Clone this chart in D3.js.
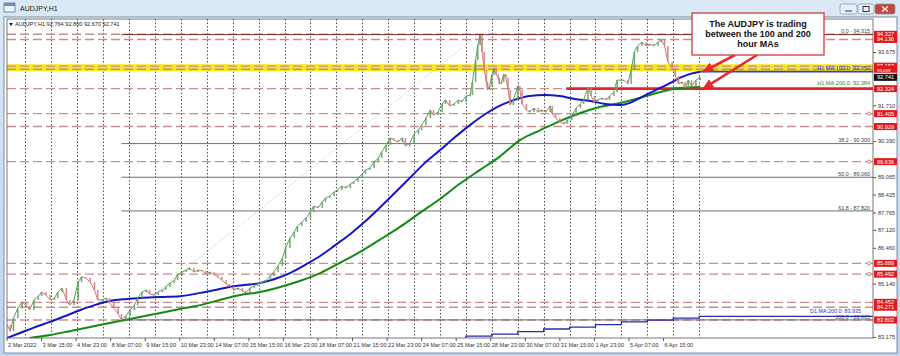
<!DOCTYPE html>
<html>
<head>
<meta charset="utf-8">
<title>AUDJPY,H1</title>
<script src="https://d3js.org/d3.v7.min.js"></script>
<style>
  body { margin: 0; background: #c6d9ee; }
  svg { display: block; font-family: "Liberation Sans", Arial, sans-serif; }
</style>
</head>
<body>
<svg id="chart" width="900" height="356"></svg>
<script>
// ---- values (bar = hourly bar index from the left edge) ----
var timeLabels = ["2 Mar 2022", "3 Mar 15:00", "4 Mar 23:00", "8 Mar 07:00", "9 Mar 15:00",
  "10 Mar 23:00", "14 Mar 07:00", "15 Mar 15:00", "16 Mar 23:00", "18 Mar 07:00",
  "21 Mar 15:00", "22 Mar 23:00", "24 Mar 07:00", "25 Mar 15:00", "28 Mar 23:00",
  "30 Mar 07:00", "31 Mar 15:00", "1 Apr 23:00", "5 Apr 07:00", "6 Apr 15:00"];
var barsPerLabel = 32;
var firstDayBar = 17;           // first midnight
var lastBar = 642;              // last candle
var barsInView = 802;

// axis ticks that are not hidden behind a price tag
var priceTicks = [93.675, 91.710, 90.390, 89.065, 88.425, 87.765, 87.120, 86.460, 85.140, 83.175];

// hourly closes [bar, price]
var closes = [[0,83.62],[3,83.39],[6,83.87],[10,84.24],[14,84.46],[18,84.32],[21,84.17],[25,84.54],
  [29,84.68],[32,84.83],[36,84.72],[40,84.54],[44,84.61],[47,84.83],[51,84.98],[55,84.54],[58,84.35],
  [62,84.54],[66,85.20],[69,85.39],[73,85.35],[77,85.20],[81,84.91],[84,84.54],[88,84.54],[92,84.61],
  [95,84.43],[99,84.24],[103,84.02],[106,83.80],[110,83.95],[114,84.17],[118,84.35],[121,84.61],
  [125,84.83],[129,84.91],[132,84.76],[136,84.72],[140,84.83],[144,84.91],[147,85.02],[151,85.16],
  [155,85.27],[158,85.46],[162,85.57],[166,85.64],[169,85.72],[173,85.57],[177,85.64],[181,85.61],
  [184,85.50],[188,85.57],[192,85.46],[195,85.39],[199,85.27],[203,85.13],[206,85.05],[210,84.91],
  [214,84.98],[218,84.87],[221,84.80],[225,84.98],[229,85.05],[232,85.13],[236,85.20],[240,85.27],
  [244,85.42],[247,85.57],[251,85.79],[255,86.08],[258,86.45],[262,86.82],[266,87.04],[269,87.26],
  [273,87.41],[277,87.56],[281,87.78],[284,88.00],[288,87.93],[292,88.15],[295,88.30],[299,88.37],
  [303,88.52],[306,88.59],[310,88.74],[314,88.66],[318,88.81],[321,88.89],[325,89.03],[329,89.18],
  [332,89.33],[336,89.40],[340,89.62],[344,89.77],[347,89.99],[351,90.25],[355,90.51],[358,90.43],
  [362,90.36],[366,90.51],[369,90.21],[373,90.32],[377,90.65],[381,90.80],[384,90.99],[388,91.24],
  [392,91.54],[395,91.35],[399,91.46],[403,91.76],[406,91.91],[410,91.69],[414,91.76],[418,91.91],
  [421,91.83],[425,92.05],[429,92.09],[431,92.57],[434,93.38],[436,93.93],[438,94.30],[440,93.68],
  [442,93.01],[444,92.57],[445,92.28],[447,92.42],[449,92.83],[451,93.09],[453,92.86],[455,92.72],
  [456,92.50],[458,92.57],[460,92.86],[462,92.72],[464,92.28],[466,91.72],[469,91.91],[473,92.42],
  [475,92.28],[477,91.76],[481,91.54],[484,91.46],[488,91.61],[492,91.46],[495,91.54],[499,91.46],
  [503,91.69],[505,91.39],[508,91.24],[512,91.10],[516,91.02],[519,91.17],[523,91.32],[527,91.61],
  [531,91.76],[534,91.91],[538,92.35],[541,92.05],[544,91.83],[547,91.91],[551,91.98],[555,91.91],
  [558,92.05],[562,92.20],[565,92.64],[568,92.64],[571,92.64],[575,92.50],[578,93.01],[581,93.68],
  [584,93.90],[588,94.04],[592,93.90],[595,93.97],[599,93.90],[603,94.04],[606,94.12],[609,93.90],
  [612,93.31],[616,93.09],[619,92.79],[622,92.50],[625,92.57],[628,92.35],[631,92.64],[634,92.42],
  [638,92.64],[642,92.74]];

// 100 hour moving average
var ma100 = [[0,83.14],[12,83.32],[26,83.54],[40,83.73],[54,83.95],[68,84.17],[81,84.35],[95,84.50],
  [109,84.57],[123,84.61],[142,84.65],[160,84.68],[179,84.80],[193,84.91],[206,85.02],[220,85.09],
  [234,85.16],[248,85.31],[262,85.53],[276,85.83],[290,86.16],[304,86.56],[318,86.97],[331,87.41],
  [345,87.93],[359,88.48],[373,89.03],[387,89.59],[401,90.06],[415,90.54],[429,90.99],[443,91.39],
  [456,91.69],[470,91.91],[484,92.05],[498,92.09],[512,92.05],[526,91.94],[540,91.87],[554,91.76],
  [568,91.72],[577,91.80],[586,91.98],[595,92.16],[605,92.35],[614,92.53],[623,92.72],[632,92.86],
  [642,92.95]];

// 200 hour moving average
var ma200 = [[21,83.14],[40,83.25],[58,83.39],[77,83.54],[95,83.69],[109,83.80],[123,83.91],
  [142,84.06],[160,84.21],[179,84.35],[197,84.54],[216,84.72],[234,84.83],[253,85.02],[271,85.24],
  [290,85.53],[308,85.90],[327,86.31],[345,86.75],[364,87.23],[382,87.74],[401,88.26],[419,88.81],
  [438,89.33],[456,89.81],[475,90.43],[494,90.80],[512,91.13],[531,91.43],[549,91.65],[568,91.80],
  [586,91.98],[605,92.20],[623,92.35],[642,92.384]];

// daily 200 MA (one value per day)
var ma200d = [[401,83.08],[425,83.21],[449,83.28],[473,83.37],[497,83.47],[521,83.54],[545,83.63],
  [569,83.73],[593,83.80],[617,83.87],[641,83.935]];

var levelLines = [94.327, 94.136, 93.153, 93.039, 92.324, 91.405, 90.929, 89.636, 85.889, 85.492,
  84.452, 84.271, 83.802];
var yellowLevels = [93.153, 93.039];
var levelMarks = [91.405, 89.636, 85.889, 85.492];
var supportLevel = 92.324, supportFromBar = 518;
var lastPrice = 92.741;

var fibLow = [106, 83.805], fibHigh = [437, 94.315];
var fibLevels = [0, 38.2, 50, 61.8, 100];
var ohlc = ["92.764", "92.800", "92.670", "92.741"];
var noteLines = ["The AUDJPY is trading", "between the 100 and 200", "hour MAs"];

// ---- layout ----
var svg = d3.select("#chart");
var pL = 7, pR = 873, pT = 19, pB = 338;

var x = d3.scaleLinear().domain([0, barsInView]).range([pL, pR]);
var y = d3.scaleLinear().domain([83.138, 94.891]).range([pB, pT]);
var fmt = d3.format(".3f");
var defs = svg.append("defs");

// window frame
var grad = defs.append("linearGradient").attr("id", "tb")
  .attr("x1", 0).attr("y1", 0).attr("x2", 0).attr("y2", 1);
grad.append("stop").attr("offset", 0).attr("stop-color", "#dbe8f6");
grad.append("stop").attr("offset", 1).attr("stop-color", "#bfd3eb");
svg.append("rect").attr("width", 900).attr("height", 356).attr("fill", "url(#tb)");
svg.append("rect").attr("x", 4).attr("y", 3).attr("width", 11).attr("height", 9)
  .attr("fill", "#eef4fb").attr("stroke", "#6d8fb8");
svg.append("rect").attr("x", 4).attr("y", 3).attr("width", 11).attr("height", 3).attr("fill", "#6d8fb8");
svg.append("text").attr("x", 20).attr("y", 11).attr("font-size", 7).attr("fill", "#1a1a1a").text("AUDJPY,H1");

var buttons = [{x: 840, w: 17, c: "#e9eff7"}, {x: 858, w: 16, c: "#e9eff7"}, {x: 875, w: 20, c: "#c9453b"}];
svg.selectAll(".btn").data(buttons).join("rect")
  .attr("x", d => d.x).attr("y", 4).attr("width", d => d.w).attr("height", 10).attr("rx", 2)
  .attr("fill", d => d.c).attr("stroke", "#7f93ad").attr("stroke-width", 0.7);
svg.append("line").attr("x1", 845).attr("x2", 852).attr("y1", 11).attr("y2", 11).attr("stroke", "#333");
svg.append("rect").attr("x", 863).attr("y", 6.5).attr("width", 6).attr("height", 5).attr("fill", "none").attr("stroke", "#333");
svg.append("path").attr("d", "M882,6.5L888,11.5M888,6.5L882,11.5").attr("stroke", "#fff").attr("stroke-width", 1.3);

// chart panel
svg.append("rect").attr("x", 4).attr("y", 17).attr("width", 893).attr("height", 336)
  .attr("fill", "#fff").attr("stroke", "#7b8ca3");

defs.append("clipPath").attr("id", "clip").append("rect")
  .attr("x", pL).attr("y", pT).attr("width", pR - pL).attr("height", pB - pT);
var g = svg.append("g").attr("clip-path", "url(#clip)");

// vertical day grid
g.selectAll(".vgrid").data(d3.range(firstDayBar, lastBar + 1, 24)).join("line")
  .attr("x1", d => Math.round(x(d)) + 0.5).attr("x2", d => Math.round(x(d)) + 0.5)
  .attr("y1", pT).attr("y2", pB)
  .attr("stroke", "#222").attr("stroke-width", 0.8).attr("stroke-dasharray", "1.5,2");

// yellow highlight band
g.selectAll(".yel").data(yellowLevels).join("line")
  .attr("x1", pL).attr("x2", pR).attr("y1", d => y(d)).attr("y2", d => y(d))
  .attr("stroke", "#f4ea1a").attr("stroke-width", 4);

// dashed horizontal levels
g.selectAll(".lvl").data(levelLines).join("line")
  .attr("x1", pL).attr("x2", pR).attr("y1", d => y(d)).attr("y2", d => y(d))
  .attr("stroke", "#c98e8e").attr("stroke-width", 1.4).attr("stroke-dasharray", "9,4");
g.selectAll(".lvlmark").data(levelMarks).join("circle")
  .attr("cx", pR - 4).attr("cy", d => y(d)).attr("r", 1.6)
  .attr("fill", "#fff").attr("stroke", "#b76b6b").attr("stroke-width", 0.8);

// fibonacci
var fibRange = fibHigh[1] - fibLow[1];
g.append("line")
  .attr("x1", x(fibLow[0])).attr("y1", y(fibLow[1])).attr("x2", x(fibHigh[0])).attr("y2", y(fibHigh[1]))
  .attr("stroke", "#c59a9a").attr("stroke-width", 0.8).attr("stroke-dasharray", "1,2");
fibLevels.forEach(function (p) {
  var v = fibHigh[1] - fibRange * p / 100;
  g.append("line").attr("x1", x(fibLow[0])).attr("x2", pR).attr("y1", y(v)).attr("y2", y(v))
    .attr("stroke", p === 0 ? "#7a2a2a" : "#6f6f6f").attr("stroke-width", 1);
  g.append("text").attr("x", pR - 3).attr("y", y(v) - 1.2).attr("text-anchor", "end")
    .attr("font-size", 5.4).attr("fill", "#444")
    .text(d3.format(".1f")(p) + " - " + fmt(v));
});

// daily MA (step line)
var stepLine = d3.line().x(d => x(d[0])).y(d => y(d[1])).curve(d3.curveStepAfter);
g.append("path").datum(ma200d.concat([[barsInView, ma200d[ma200d.length - 1][1]]]))
  .attr("d", stepLine).attr("fill", "none").attr("stroke", "#2b2bb0").attr("stroke-width", 1.3);
g.append("text").attr("x", pR - 12).attr("y", y(83.935) - 3.2).attr("text-anchor", "end")
  .attr("font-size", 5.4).attr("fill", "#2b2bb0").text("D1 MA:200:0: 83.935");

// support line
g.append("line").attr("x1", x(supportFromBar)).attr("x2", pR)
  .attr("y1", y(supportLevel)).attr("y2", y(supportLevel))
  .attr("stroke", "#e62222").attr("stroke-width", 2.6);

// moving averages
var line = d3.line().x(d => x(d[0])).y(d => y(d[1])).curve(d3.curveMonotoneX);
g.append("path").datum(ma200).attr("d", line).attr("fill", "none").attr("stroke", "#138a13").attr("stroke-width", 2);
g.append("path").datum(ma100).attr("d", line).attr("fill", "none").attr("stroke", "#1515c8").attr("stroke-width", 2);
var ma100Last = ma100[ma100.length - 1], ma200Last = ma200[ma200.length - 1];
g.append("line").attr("x1", x(lastBar)).attr("x2", pR).attr("y1", y(ma100Last[1])).attr("y2", y(ma100Last[1]))
  .attr("stroke", "#3b3bd0").attr("stroke-width", 1.8);
g.append("text").attr("x", pR - 3).attr("y", y(ma100Last[1]) - 2).attr("text-anchor", "end")
  .attr("font-size", 5.6).attr("fill", "#3b3bd0").text("H1 MA:100:0: " + fmt(ma100Last[1]));
g.append("text").attr("x", pR - 3).attr("y", y(ma200Last[1]) - 2).attr("text-anchor", "end")
  .attr("font-size", 5.6).attr("fill", "#2f8a2f").text("H1 MA:200:0: " + fmt(ma200Last[1]));

// price (hourly closes drawn as small up/down bars)
var up = "#5f9f5f", down = "#cf7b7b";
var pairs = d3.pairs(closes);
g.selectAll(".pseg").data(pairs).join("line")
  .attr("x1", d => x(d[0][0])).attr("y1", d => y(d[0][1]))
  .attr("x2", d => x(d[1][0])).attr("y2", d => y(d[1][1]))
  .attr("stroke", d => d[1][1] >= d[0][1] ? up : down).attr("stroke-width", 1);
g.selectAll(".body").data(pairs).join("rect")
  .attr("x", d => x(d[1][0]) - 0.8).attr("width", 1.6)
  .attr("y", d => y(Math.max(d[0][1], d[1][1])))
  .attr("height", d => Math.max(1, Math.abs(y(d[0][1]) - y(d[1][1]))))
  .attr("fill", d => d[1][1] >= d[0][1] ? up : down).attr("opacity", 0.85);

// plot border
svg.append("rect").attr("x", pL).attr("y", pT).attr("width", pR - pL).attr("height", pB - pT)
  .attr("fill", "none").attr("stroke", "#555").attr("stroke-width", 0.8);

// header
svg.append("path").attr("d", "M9,23L13,23L11,26Z").attr("fill", "#222");
svg.append("text").attr("x", 15).attr("y", 26).attr("font-size", 5.6).attr("fill", "#222")
  .text("AUDJPY,H1  " + ohlc.join(" "));

// right price axis
var yAxis = svg.append("g").attr("transform", "translate(" + pR + ",0)")
  .call(d3.axisRight(y).tickValues(priceTicks).tickFormat(fmt).tickSize(3).tickPadding(2));
yAxis.select(".domain").remove();
yAxis.selectAll("line").attr("stroke", "#555");
yAxis.selectAll("text").attr("font-size", 5.6).attr("fill", "#333").attr("font-family", "Liberation Sans, Arial");

// price tags on the axis (the two yellow-band tags sit almost on top of each other, as in the source)
var tags = svg.selectAll(".tag").data(levelLines.map(v => ({v: v, c: "#e01b1b"})).concat([{v: lastPrice, c: "#111"}]))
  .join("g").attr("transform", d => "translate(" + (pR + 1) + "," + y(d.v) + ")");
tags.append("rect").attr("x", 0).attr("y", -3.5).attr("width", 23).attr("height", 7).attr("fill", d => d.c);
tags.append("text").attr("x", 3).attr("y", d => d.v === 93.039 ? 3.2 : 2)
  .attr("font-size", d => d.v === 93.039 ? 4.4 : 5.6).attr("fill", "#fff").text(d => fmt(d.v));

// time axis
var tl = svg.selectAll(".tl").data(timeLabels).join("g")
  .attr("transform", (d, i) => "translate(" + x(i * barsPerLabel) + "," + pB + ")");
tl.append("line").attr("y1", 0).attr("y2", 3).attr("stroke", "#555");
tl.append("text").attr("x", 1).attr("y", 9).attr("font-size", 5.6).attr("fill", "#333").text(d => d);

// annotation
defs.append("marker").attr("id", "arr").attr("markerUnits", "userSpaceOnUse")
  .attr("markerWidth", 12).attr("markerHeight", 12).attr("refX", 10).attr("refY", 6)
  .attr("orient", "auto").append("path").attr("d", "M0,1L11,6L0,11Z").attr("fill", "#e62a2a");
var tips = [[735, 55, ma100Last[1]], [757, 55, supportLevel]];
svg.selectAll(".arrow").data(tips).join("line")
  .attr("x1", d => d[0]).attr("y1", d => d[1])
  .attr("x2", x(lastBar) + 3).attr("y2", d => y(d[2]))
  .attr("stroke", "#e62a2a").attr("stroke-width", 2.6).attr("marker-end", "url(#arr)");

svg.append("rect").attr("x", 692).attr("y", 13).attr("width", 132).attr("height", 42)
  .attr("fill", "#fff").attr("stroke", "#d23a3a").attr("stroke-width", 1.3);
svg.selectAll(".note").data(noteLines).join("text")
  .attr("x", 758).attr("y", (d, i) => 27 + i * 10).attr("text-anchor", "middle")
  .attr("font-size", 9).attr("font-weight", "bold").attr("fill", "#111").text(d => d);
</script>
</body>
</html>
